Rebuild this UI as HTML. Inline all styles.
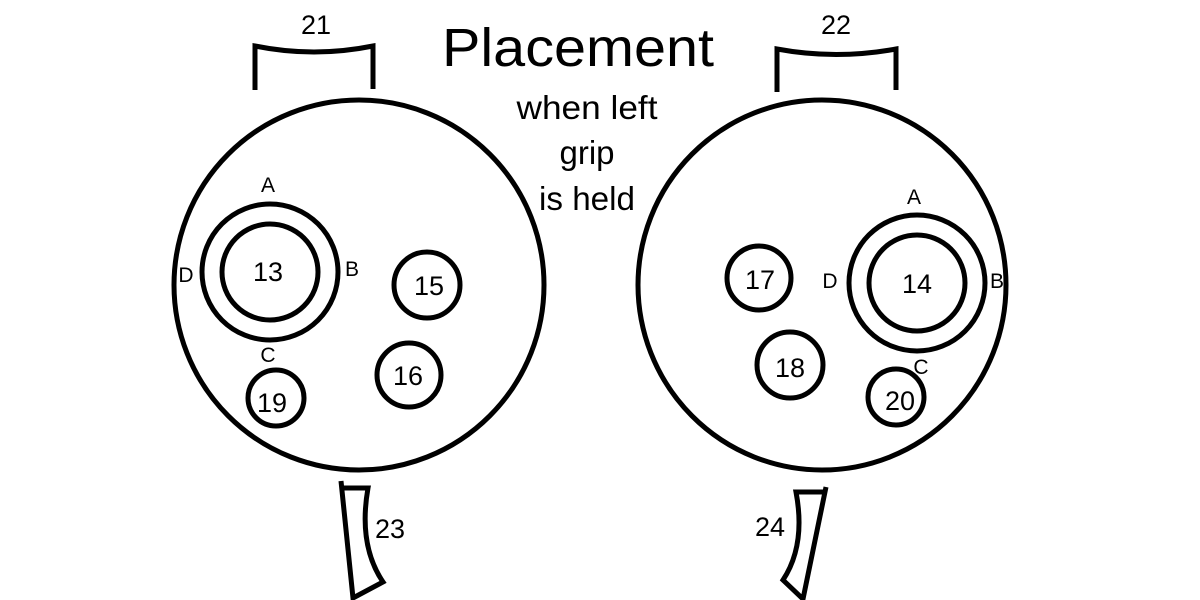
<!DOCTYPE html>
<html><head><meta charset="utf-8"><style>
html,body{margin:0;padding:0;background:#fff;}
svg{display:block;}
text{font-family:"Liberation Sans",sans-serif;fill:#000;}
</style></head><body>
<svg width="1200" height="600" viewBox="0 0 1200 600">
<g fill="none" stroke="#000" stroke-width="5">
<path d="M255 90 V46 Q314 58 373 46 V89"/>
<path d="M777 92 V49 Q836 60 896 49 V90"/>
<ellipse cx="359" cy="285" rx="185" ry="185"/>
<ellipse cx="822" cy="285" rx="184" ry="185"/>
<circle cx="270" cy="272" r="68"/>
<circle cx="270" cy="272" r="48"/>
<circle cx="917" cy="283" r="68"/>
<circle cx="917" cy="283" r="48"/>
<circle cx="427" cy="285" r="33"/>
<circle cx="409" cy="375" r="32"/>
<circle cx="276" cy="398" r="28"/>
<circle cx="759" cy="278" r="32"/>
<circle cx="790" cy="365" r="33"/>
<circle cx="896" cy="397" r="28"/>
<path d="M341 481 L353 598 L383 582 Q358 545 368 488 L342 488"/>
<path d="M826 487 L803 599 L783 580 Q806 545 796 492 L825 492"/>
</g>
<g font-size="27" text-anchor="middle">
<text x="316" y="34">21</text>
<text x="836" y="34">22</text>
<text x="268" y="281">13</text>
<text x="917" y="293">14</text>
<text x="429" y="295">15</text>
<text x="408" y="385">16</text>
<text x="760" y="289">17</text>
<text x="790" y="377">18</text>
<text x="272" y="412">19</text>
<text x="900" y="410">20</text>
<text x="390" y="538">23</text>
<text x="770" y="536">24</text>
</g>
<g font-size="21" text-anchor="middle">
<text x="268" y="192">A</text>
<text x="352" y="276">B</text>
<text x="268" y="362">C</text>
<text x="186" y="282">D</text>
<text x="914" y="204">A</text>
<text x="997" y="288">B</text>
<text x="921" y="374">C</text>
<text x="830" y="288">D</text>
</g>
<text x="578" y="66" font-size="54" text-anchor="middle" textLength="272" lengthAdjust="spacingAndGlyphs">Placement</text>
<g font-size="33" text-anchor="middle">
<text x="587" y="119" textLength="141" lengthAdjust="spacingAndGlyphs">when left</text>
<text x="587" y="164">grip</text>
<text x="587" y="210" textLength="96" lengthAdjust="spacingAndGlyphs">is held</text>
</g>
</svg>
</body></html>
